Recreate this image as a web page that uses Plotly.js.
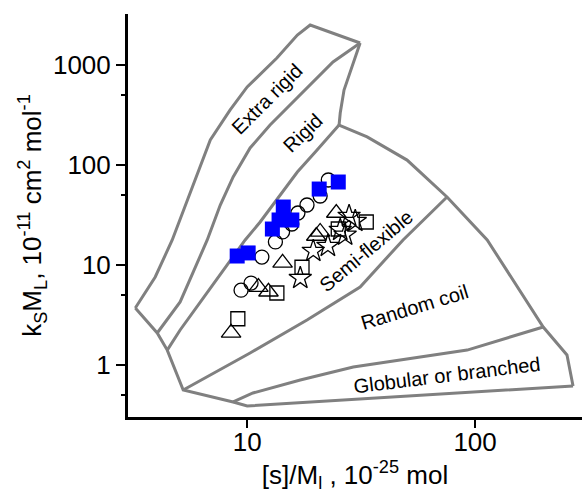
<!DOCTYPE html>
<html>
<head>
<meta charset="utf-8">
<script src="https://cdn.plot.ly/plotly-3.0.1.min.js"></script>
<style>
  html, body { margin: 0; padding: 0; background: #fff; }
  #chart { width: 582px; height: 493px; }
</style>
</head>
<body>
<div id="chart"></div>
<script>
// Conformation zone boundaries, ks*ML vs [s]/ML (log-log)
const zoneOuterX = [3.23, 3.95, 4.69, 5.46, 6.22, 6.89, 8.42, 10.0, 13.5, 16.6, 18.9, 31.3];
const zoneOuterY = [3.72, 7.59, 17.8, 44.7, 95.5, 178, 355, 603, 1175, 1995, 2512, 1660];

const extraRigidRigidX = [4.03, 5.08, 6.68, 7.62, 8.68, 10.3, 12.6, 17.1, 23.8, 31.3];
const extraRigidRigidY = [2.09, 4.27, 17.8, 39.8, 75.9, 148, 251, 501, 1072, 1660];

const rigidRightX = [31.3, 28.9, 26.6, 25.6, 25.3];
const rigidRightY = [1660, 955, 562, 331, 251];

const rigidSemiX = [4.46, 5.08, 6.47, 8.42, 9.80, 11.4, 13.3, 16.6, 19.9, 25.3];
const rigidSemiY = [1.41, 2.24, 4.79, 11.2, 17.8, 26.9, 42.7, 85.1, 135, 251];

const rightEdgeX = [25.3, 33.6, 50.3, 75.3, 113, 199, 253, 269];
const rightEdgeY = [251, 191, 112, 47.9, 17.8, 2.40, 1.26, 0.617];

const bottomEdgeX = [3.23, 4.03, 4.46, 5.24, 8.68, 10.0, 269];
const bottomEdgeY = [3.72, 2.09, 1.41, 0.562, 0.427, 0.389, 0.617];

const semiCoilX = [5.24, 10.3, 18.3, 31.3, 48.3, 75.3];
const semiCoilY = [0.562, 1.32, 2.82, 6.03, 17.8, 47.9];

const coilGlobularX = [8.68, 10.6, 17.1, 29.2, 92.3, 199];
const coilGlobularY = [0.427, 0.525, 0.708, 0.955, 1.41, 2.40];

// Measured samples
const circleX = [22.7, 20.9, 18.3, 16.7, 15.7, 14.3, 13.3, 11.6, 10.4, 9.4];
const circleY = [70.8, 49.0, 39.8, 33.1, 25.7, 21.4, 17.0, 12.0, 6.6, 5.6];

const triangleX = [24.6, 20.9, 20.1, 14.3, 11.2, 12.4, 8.5];
const triangleY = [33.1, 21.4, 19.5, 10.5, 6.0, 5.4, 2.1];

const squareX = [33.3, 25.1, 17.4, 13.5, 9.1];
const squareY = [26.9, 22.9, 9.5, 5.25, 2.9];

const starX = [28.0, 29.8, 25.6, 26.9, 22.6, 19.5, 17.1];
const starY = [30.9, 27.5, 22.4, 20.0, 15.5, 13.8, 7.4];

const blueX = [9.04, 10.1, 12.9, 13.8, 15.7, 14.4, 20.7, 25.1];
const blueY = [12.3, 13.2, 22.9, 28.2, 28.2, 38.0, 57.5, 67.6];

const yTicks = [1, 10, 100, 1000];
const yMinorTicks = [0.5, 5, 50, 500];
const xTicks = [10, 100];

const FONT = 'Liberation Sans, Arial, sans-serif';
const GRAY = '#808080';

function boundary(x, y) {
  return { x: x, y: y, type: 'scatter', mode: 'lines',
           line: { color: GRAY, width: 3 }, hoverinfo: 'skip', showlegend: false };
}
function openPoints(x, y, symbol, size) {
  return { x: x, y: y, type: 'scatter', mode: 'markers', showlegend: false,
           marker: { symbol: symbol, size: size, color: '#000',
                     line: { color: '#000', width: 1.3 } } };
}

const traces = [
  boundary(zoneOuterX, zoneOuterY),
  boundary(extraRigidRigidX, extraRigidRigidY),
  boundary(rigidRightX, rigidRightY),
  boundary(rigidSemiX, rigidSemiY),
  boundary(rightEdgeX, rightEdgeY),
  boundary(bottomEdgeX, bottomEdgeY),
  boundary(semiCoilX, semiCoilY),
  boundary(coilGlobularX, coilGlobularY),
  openPoints(circleX, circleY, 'circle-open', 14),
  openPoints(triangleX, triangleY, 'triangle-up-open', 17),
  openPoints(squareX, squareY, 'square-open', 14),
  openPoints(starX, starY, 'star-open', 17),
  { x: blueX, y: blueY, type: 'scatter', mode: 'markers', showlegend: false,
    marker: { symbol: 'square', size: 15, color: '#0000ff', line: { width: 0 } } }
];

function zoneLabel(text, x, y, angle) {
  return { text: text, xref: 'paper', yref: 'paper', x: x, y: y,
           xanchor: 'center', yanchor: 'middle', textangle: angle,
           showarrow: false, font: { family: FONT, size: 20, color: '#000' } };
}

const layout = {
  width: 582, height: 493,
  margin: { l: 128, r: 0, t: 14, b: 76 },
  paper_bgcolor: '#fff', plot_bgcolor: '#fff',
  font: { family: FONT, size: 26, color: '#000' },
  xaxis: {
    type: 'log', range: [Math.log10(3.0), 2.469],
    showline: true, linecolor: '#000', linewidth: 3, mirror: false,
    showgrid: false, zeroline: false,
    ticks: 'outside', ticklen: 8, tickwidth: 2.5, tickcolor: '#000',
    tickmode: 'array', tickvals: xTicks, ticktext: xTicks.map(String),
    tickfont: { family: FONT, size: 26 }, ticklabelstandoff: -8,
    title: { text: '[s]/M<sub>l</sub> , 10<sup>-25</sup> mol',
             font: { family: FONT, size: 26 }, standoff: 14 },
    automargin: false
  },
  yaxis: {
    type: 'log', range: [-0.52, 3.51],
    showline: true, linecolor: '#000', linewidth: 3, mirror: false,
    showgrid: false, zeroline: false,
    ticks: 'outside', ticklen: 9, tickwidth: 2.5, tickcolor: '#000',
    tickmode: 'array', tickvals: yTicks, ticktext: yTicks.map(String),
    tickfont: { family: FONT, size: 26 },
    minor: { tickmode: 'array', tickvals: yMinorTicks, ticks: 'outside',
             ticklen: 4, tickwidth: 2.5, tickcolor: '#000', showgrid: false },
    title: { text: 'k<sub>S</sub>M<sub>L</sub>, 10<sup>-11</sup> cm<sup>2</sup> mol<sup>-1</sup>',
             font: { family: FONT, size: 26 }, standoff: 4 },
    automargin: false
  },
  annotations: [
    zoneLabel('Extra rigid', 0.306, 0.789, -45),
    zoneLabel('Rigid', 0.385, 0.705, -44),
    zoneLabel('Semi-flexible', 0.524, 0.412, -40),
    zoneLabel('Random coil', 0.632, 0.273, -17),
    zoneLabel('Globular or branched', 0.703, 0.104, -7)
  ],
  showlegend: false
};

Plotly.newPlot('chart', traces, layout, { displayModeBar: false, staticPlot: true });
</script>
</body>
</html>
